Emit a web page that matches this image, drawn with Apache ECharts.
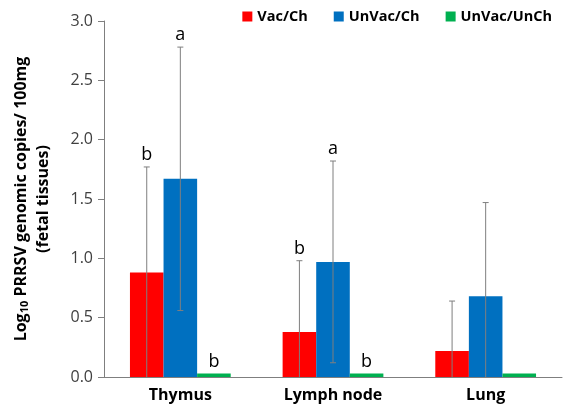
<!DOCTYPE html>
<html>
<head>
<meta charset="utf-8">
<script src="https://cdn.jsdelivr.net/npm/echarts@6/dist/echarts.min.js"></script>
<style>
  html, body { margin: 0; padding: 0; background: #fff; }
  #chart { width: 567px; height: 416px; }
</style>
</head>
<body>
<div id="chart"></div>
<script>
var categories = ['Thymus', 'Lymph node', 'Lung'];
var seriesNames = ['Vac/Ch', 'UnVac/Ch', 'UnVac/UnCh'];
var vacCh = [0.88, 0.38, 0.22];
var unvacCh = [1.67, 0.97, 0.68];
var unvacUnch = [0.03, 0.03, 0.03];
var vacChErr = [0.89, 0.60, 0.42];
var unvacChErr = [1.11, 0.85, 0.79];
var unvacUnchErr = [0, 0, 0];
// significance letters, one per bar
var vacChLetters = ['b', 'b', ''];
var unvacChLetters = ['a', 'a', ''];
var unvacUnchLetters = ['b', 'b', ''];

var colors = ['#FF0000', '#0070C0', '#00B050'];
var gapPct = 0.34;

var values = [vacCh, unvacCh, unvacUnch];
var errs = [vacChErr, unvacChErr, unvacUnchErr];
var letters = [vacChLetters, unvacChLetters, unvacUnchLetters];

function errorSeries(k) {
  var data = values[k].map(function (v, i) {
    return [i, v, errs[k][i]];
  });
  return {
    type: 'custom',
    data: data,
    z: 10,
    silent: true,
    renderItem: function (params, api) {
      var i = api.value(0), v = api.value(1), e = api.value(2);
      var band = api.size([1, 0])[0];
      var bw = band * (1 - gapPct) / 3;
      var off = (k - 1) * bw;
      var base = api.coord([i, v]);
      var x = base[0] + off;
      var children = [];
      var label = letters[k][i];
      var topY = base[1];
      if (e > 0) {
        var hi = api.coord([i, v + e])[1];
        var lo = api.coord([i, Math.max(0, v - e)])[1];
        topY = hi;
        var st = { stroke: '#7F7F7F', lineWidth: 1 };
        children.push({ type: 'line', shape: { x1: x, y1: hi, x2: x, y2: lo }, style: st });
        children.push({ type: 'line', shape: { x1: x - 3, y1: hi, x2: x + 3, y2: hi }, style: st });
        if (v - e > 0) {
          children.push({ type: 'line', shape: { x1: x - 3, y1: lo, x2: x + 3, y2: lo }, style: st });
        }
      }
      if (label) {
        children.push({
          type: 'text',
          style: {
            text: label, x: x, y: topY - 3,
            textAlign: 'center', textVerticalAlign: 'bottom',
            fontSize: 18, fontFamily: 'Open Sans', fill: '#000'
          }
        });
      }
      return { type: 'group', children: children };
    }
  };
}

var series = [];
for (var k = 0; k < 3; k++) {
  series.push({
    name: seriesNames[k],
    type: 'bar',
    data: values[k],
    itemStyle: { color: colors[k] },
    barGap: '0%',
    barCategoryGap: (gapPct * 100) + '%'
  });
}
for (var k = 0; k < 3; k++) series.push(errorSeries(k));

var chart = echarts.init(document.getElementById('chart'));
chart.setOption({
  animation: false,
  backgroundColor: '#fff',
  grid: { left: 104, right: 5, top: 21, bottom: 39 },
  legend: {
    data: seriesNames,
    top: 4,
    right: 10,
    itemWidth: 10,
    itemHeight: 10,
    itemGap: 26,
    icon: 'rect',
    textStyle: { fontSize: 14.5, fontWeight: 'bold', fontFamily: 'Open Sans', color: '#000' }
  },
  xAxis: {
    type: 'category',
    data: categories,
    axisLine: { lineStyle: { color: '#7F7F7F', width: 1 } },
    axisTick: { alignWithLabel: true, length: 5, lineStyle: { color: '#7F7F7F' } },
    axisLabel: { fontSize: 16, fontWeight: 'bold', fontFamily: 'Open Sans', color: '#000', margin: 10 }
  },
  yAxis: {
    type: 'value',
    min: 0,
    max: 3,
    interval: 0.5,
    axisLine: { show: true, lineStyle: { color: '#7F7F7F', width: 1 } },
    axisTick: { show: true, length: 6, lineStyle: { color: '#7F7F7F' } },
    splitLine: { show: false },
    axisLabel: {
      fontSize: 16, fontFamily: 'Open Sans', color: '#404040', margin: 11,
      formatter: function (v) { return v.toFixed(1); }
    },
    name: '{b|Log}{s|10}{b| PRRSV genomic copies/ 100mg}\n{b|(fetal tissues)}',
    nameLocation: 'middle',
    nameRotate: 90,
    nameGap: 50,
    nameTextStyle: {
      rich: {
        b: { fontSize: 16, fontWeight: 'bold', fontFamily: 'Open Sans', color: '#000', lineHeight: 22 },
        s: { fontSize: 11, fontWeight: 'bold', fontFamily: 'Open Sans', color: '#000', padding: [8, 0, 0, 0], lineHeight: 22 }
      }
    }
  },
  series: series
});
</script>
</body>
</html>
